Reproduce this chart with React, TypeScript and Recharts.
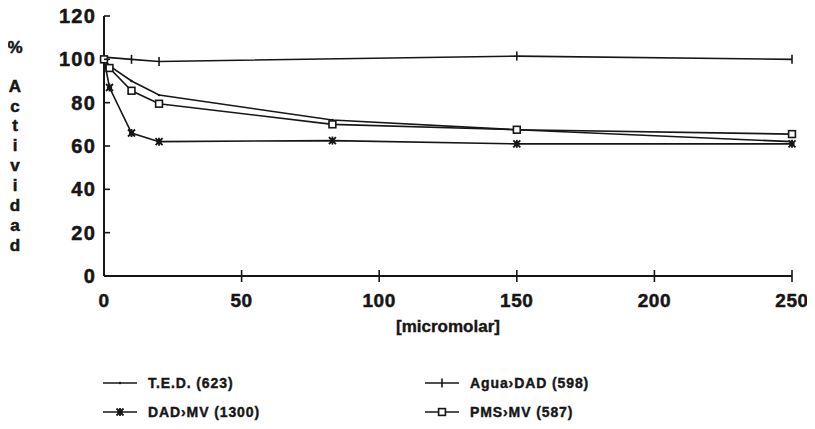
import React from 'react';
import { LineChart, Line, XAxis, YAxis } from 'recharts';

// ---- data ----
const xTicks = [0, 50, 100, 150, 200, 250];
const yTicks = [0, 20, 40, 60, 80, 100, 120];

const tedX = [0, 2, 10, 20, 83, 150, 250];
const tedY = [100, 97, 90, 83.5, 72, 67.5, 62];

const aguaX = [0, 10, 20, 150, 250];
const aguaY = [101, 100, 99, 101.5, 100];

const dadX = [0, 2, 10, 20, 83, 150, 250];
const dadY = [100, 87, 66, 62, 62.5, 61, 61];

const pmsX = [0, 2, 10, 20, 83, 150, 250];
const pmsY = [100, 96, 85.5, 79.5, 70, 67.5, 65.5];

const seriesNames = ['T.E.D. (623)', 'Agua\u203ADAD (598)', 'DAD\u203AMV (1300)', 'PMS\u203AMV (587)'];
const yLabelTop = '%';
const yLabelLetters = ['A', 'c', 't', 'i', 'v', 'i', 'd', 'a', 'd'];
const xLabel = '[micromolar]';

const toData = (xs: number[], ys: number[]) => xs.map((x, i) => ({ x, y: ys[i] }));

const INK = '#161616';
const FONT = '"Liberation Sans", Arial, Helvetica, sans-serif';

type MarkerKind = 'dot' | 'plus' | 'star' | 'square';

const Marker = ({ kind, cx, cy }: { kind: MarkerKind; cx: number; cy: number }) => {
  if (cx == null || cy == null) return null;
  if (kind === 'dot') return <circle cx={cx} cy={cy} r={1.2} fill={INK} />;
  if (kind === 'plus')
    return (
      <g>
        <line x1={cx} y1={cy - 4.5} x2={cx} y2={cy + 4.5} stroke={INK} strokeWidth={1.6} />
      </g>
    );
  if (kind === 'star')
    return (
      <g>
        <line x1={cx - 3.5} y1={cy - 3.5} x2={cx + 3.5} y2={cy + 3.5} stroke={INK} strokeWidth={1.8} />
        <line x1={cx - 3.5} y1={cy + 3.5} x2={cx + 3.5} y2={cy - 3.5} stroke={INK} strokeWidth={1.8} />
        <line x1={cx} y1={cy - 4} x2={cx} y2={cy + 4} stroke={INK} strokeWidth={1.8} />
        <circle cx={cx} cy={cy} r={2.6} fill={INK} />
      </g>
    );
  return <rect x={cx - 3.4} y={cy - 3.4} width={6.8} height={6.8} fill="#fff" stroke={INK} strokeWidth={1.6} />;
};

const makeDot = (kind: MarkerKind) => (props: any) => (
  <Marker key={`${kind}-${props.index}`} kind={kind} cx={props.cx} cy={props.cy} />
);

const XTick = (props: any) => {
  const { x, y, payload } = props;
  return (
    <g>
      {payload.value !== 0 && <line x1={x} y1={y - 6} x2={x} y2={y + 6} stroke={INK} strokeWidth={1.6} />}
      <text x={x} y={y + 31} textAnchor="middle" fontFamily={FONT} fontWeight="bold" fontSize={19}
        letterSpacing={0.6} fill={INK} stroke={INK} strokeWidth={0.5}>
        {payload.value}
      </text>
    </g>
  );
};

const YTick = (props: any) => {
  const { x, y, payload } = props;
  return (
    <g>
      {payload.value !== 0 && <line x1={x} y1={y} x2={x + 6} y2={y} stroke={INK} strokeWidth={1.6} />}
      <text x={x - 8} y={y + 7} textAnchor="end" fontFamily={FONT} fontWeight="bold" fontSize={20}
        letterSpacing={1.2} fill={INK} stroke={INK} strokeWidth={0.5}>
        {payload.value}
      </text>
    </g>
  );
};

const YLabel = () => {
  const letterY = [86, 106, 125, 145, 165, 185, 205, 225, 245];
  return (
    <g fontFamily={FONT} fontWeight="bold" fill={INK} stroke={INK} strokeWidth={0.5} textAnchor="middle">
      <text x={15} y={53} fontSize={17}>{yLabelTop}</text>
      {yLabelLetters.map((ch, i) => (
        <text key={i} x={15} y={letterY[i] + 6} fontSize={17}>
          {ch}
        </text>
      ))}
    </g>
  );
};

const SERIES: { name: string; data: { x: number; y: number }[]; kind: MarkerKind }[] = [
  { name: seriesNames[0], data: toData(tedX, tedY), kind: 'dot' },
  { name: seriesNames[1], data: toData(aguaX, aguaY), kind: 'plus' },
  { name: seriesNames[2], data: toData(dadX, dadY), kind: 'star' },
  { name: seriesNames[3], data: toData(pmsX, pmsY), kind: 'square' },
];

const LegendItem = ({ name, kind, left, top }: { name: string; kind: MarkerKind; left: number; top: number }) => (
  <div style={{ position: 'absolute', left, top, display: 'flex', alignItems: 'center', height: 20 }}>
    <svg width={36} height={20} style={{ display: 'block' }}>
      <line x1={1} y1={10} x2={35} y2={10} stroke={INK} strokeWidth={1.5} />
      <Marker kind={kind} cx={18} cy={10} />
    </svg>
    <span
      style={{
        marginLeft: 10,
        fontFamily: FONT,
        fontWeight: 'bold',
        fontSize: 14,
        letterSpacing: 0.9,
        color: INK,
        whiteSpace: 'nowrap',
        WebkitTextStroke: '0.4px #161616',
      }}
    >
      {name}
    </span>
  </div>
);

export default function App() {
  return (
    <div style={{ position: 'relative', width: 815, height: 429, margin: -8, background: '#fff' }}>
      <LineChart width={815} height={429} margin={{ top: 16, right: 23, left: 0, bottom: 83 }}>
        <XAxis
          dataKey="x"
          type="number"
          domain={[0, 250]}
          ticks={xTicks}
          allowDuplicatedCategory={false}
          height={70}
          tickSize={0}
          tickMargin={0}
          tick={<XTick />}
          axisLine={{ stroke: INK, strokeWidth: 2 }}
          tickLine={false}
          label={{ value: xLabel, position: 'insideBottom', offset: 14, fontFamily: FONT, fontWeight: 'bold', fontSize: 17, fill: INK, stroke: INK, strokeWidth: 0.4 }}
        />
        <YAxis
          dataKey="y"
          type="number"
          domain={[0, 120]}
          ticks={yTicks}
          width={104}
          tickSize={0}
          tickMargin={0}
          tick={<YTick />}
          axisLine={{ stroke: INK, strokeWidth: 2 }}
          tickLine={false}
          label={<YLabel />}
        />
        {SERIES.map((s) => (
          <Line
            key={s.name}
            data={s.data}
            dataKey="y"
            name={s.name}
            type="linear"
            stroke={INK}
            strokeWidth={1.6}
            dot={makeDot(s.kind)}
            activeDot={false}
            isAnimationActive={false}
          />
        ))}
      </LineChart>
      <LegendItem name={SERIES[0].name} kind={SERIES[0].kind} left={102} top={373} />
      <LegendItem name={SERIES[1].name} kind={SERIES[1].kind} left={424} top={373} />
      <LegendItem name={SERIES[2].name} kind={SERIES[2].kind} left={102} top={402} />
      <LegendItem name={SERIES[3].name} kind={SERIES[3].kind} left={424} top={402} />
    </div>
  );
}
